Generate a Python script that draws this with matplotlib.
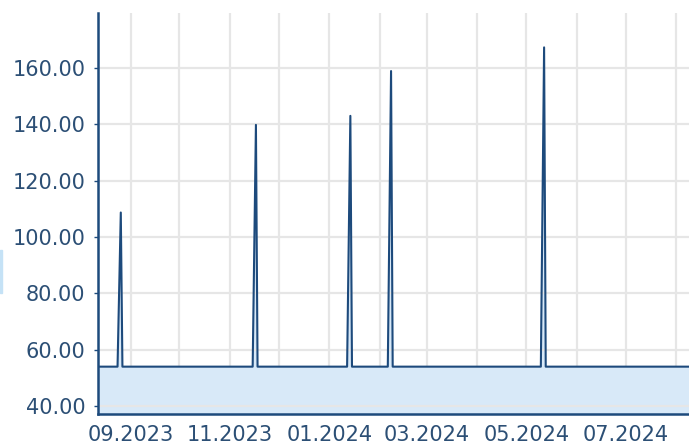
import pandas as pd
import numpy as np
import matplotlib.pyplot as plt
import matplotlib.dates as mdates
from matplotlib.patches import Rectangle

# price points (line is flat between them)
dates = ['2023-08-12', '2023-08-24', '2023-08-26', '2023-08-27',
         '2023-11-15', '2023-11-17', '2023-11-18',
         '2024-01-12', '2024-01-14', '2024-01-15',
         '2024-02-06', '2024-02-08', '2024-02-09',
         '2024-05-10', '2024-05-12', '2024-05-13',
         '2024-08-10']
values = [54, 54, 108.7, 54,
          54, 139.8, 54,
          54, 143.0, 54,
          54, 158.9, 54,
          54, 167.3, 54,
          54]

x_ticks = ['2023-09-01', '2023-11-01', '2024-01-01', '2024-03-01', '2024-05-01', '2024-07-01']
y_ticks = [40, 60, 80, 100, 120, 140, 160]

navy = '#1d4a7c'
text_col = '#2c4f75'

fig = plt.figure(figsize=(6.89, 4.41), dpi=100)
ax = fig.add_axes([98 / 689, 27 / 441, 591 / 689, 401 / 441])

x = pd.to_datetime(dates)
ax.fill_between(x, values, 0, color='#d8e9f8', lw=0, zorder=1)
ax.plot(x, values, color=navy, lw=1.5, zorder=3)

ax.set_xlim(pd.Timestamp('2023-08-12'), pd.Timestamp('2024-08-09'))
ax.set_ylim(37.2, 179.5)

# monthly grid, labels every second month
months = pd.date_range('2023-09-01', '2024-08-01', freq='MS')
for m in months:
    ax.axvline(m, color='#e6e6e6', lw=1.6, zorder=0)
ax.set_xticks(pd.to_datetime(x_ticks))
ax.set_xticklabels([pd.Timestamp(t).strftime('%m.%Y') for t in x_ticks])
ax.set_yticks(y_ticks)
ax.set_yticklabels(['%.2f' % v for v in y_ticks])
ax.grid(axis='y', color='#e6e6e6', lw=1.6, zorder=0)

ax.tick_params(axis='x', length=0, pad=8, labelsize=15, labelcolor=text_col)
ax.tick_params(axis='y', length=3, width=1, color=navy, pad=6, labelsize=15, labelcolor=text_col)

for s in ['top', 'right']:
    ax.spines[s].set_visible(False)
for s in ['left', 'bottom']:
    ax.spines[s].set_color(navy)
    ax.spines[s].set_linewidth(1.8)

# small clipped patch at the left edge
fig.patches.append(Rectangle((0, (441 - 293) / 441), 2 / 689, 43 / 441,
                             transform=fig.transFigure, color='#c5e2f6'))

plt.savefig('out.png')
